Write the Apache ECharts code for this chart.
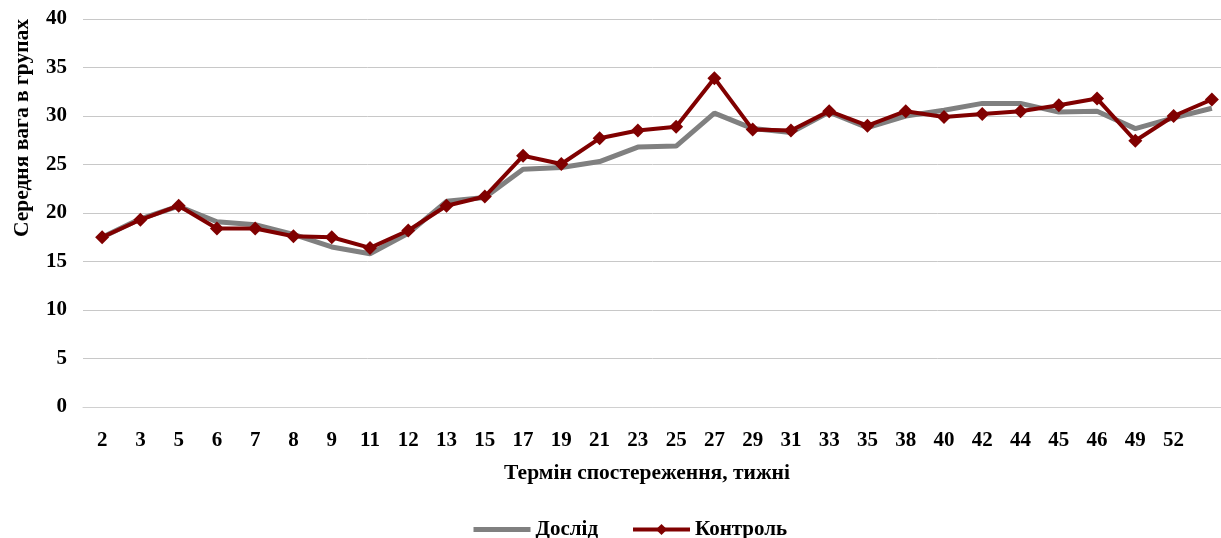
<!DOCTYPE html>
<html>
<head>
<meta charset="utf-8">
<script src="https://cdn.jsdelivr.net/npm/echarts@6/dist/echarts.min.js"></script>
<style>
  html, body { margin: 0; padding: 0; background: #fff; }
  #chart { width: 1221px; height: 538px; }
</style>
</head>
<body>
<div id="chart"></div>
<script>
const weeks = ['2', '3', '5', '6', '7', '8', '9', '11', '12', '13', '15', '17', '19', '21', '23',
  '25', '27', '29', '31', '33', '35', '38', '40', '42', '44', '45', '46', '49', '52', ''];

const doslid = [17.5, 19.4, 20.7, 19.1, 18.8, 17.8, 16.5, 15.8, 17.9, 21.2, 21.6, 24.5, 24.7, 25.3, 26.8,
  26.9, 30.3, 28.7, 28.3, 30.4, 28.8, 30.0, 30.6, 31.3, 31.3, 30.4, 30.5, 28.7, 29.8, 30.8];

const kontrol = [17.5, 19.3, 20.75, 18.4, 18.4, 17.6, 17.5, 16.4, 18.2, 20.75, 21.7, 25.9, 25.05, 27.7, 28.5,
  28.9, 33.9, 28.6, 28.5, 30.5, 29.0, 30.5, 29.9, 30.2, 30.5, 31.1, 31.8, 27.45, 30.0, 31.7];

const yTicks = { min: 0, max: 40, interval: 5 };

const font = 'Liberation Serif, Times New Roman, serif';

const chart = echarts.init(document.getElementById('chart'));

chart.setOption({
  animation: false,
  grid: {
    left: 83,
    top: 19,
    width: 1148,
    height: 388,
    outerBoundsMode: 'none'
  },
  legend: {
    top: 514,
    left: 466,
    itemWidth: 57,
    itemHeight: 14,
    itemGap: 33,
    textStyle: { fontFamily: font, fontWeight: 'bold', fontSize: 21, color: '#000' },
    data: [
      { name: 'Дослід', itemStyle: { opacity: 0 }, lineStyle: { width: 5, color: '#808080' } },
      { name: 'Контроль', lineStyle: { width: 4, color: '#800000' } }
    ]
  },
  xAxis: {
    type: 'category',
    data: weeks,
    boundaryGap: true,
    name: 'Термін спостереження, тижні',
    nameLocation: 'middle',
    nameGap: 55,
    nameTextStyle: {
      fontFamily: font, fontWeight: 'bold', fontSize: 21.5, color: '#000',
      padding: [0, 20, 0, 0]
    },
    axisLine: { lineStyle: { color: '#d0d0d0', width: 1 } },
    axisTick: { show: false },
    axisLabel: {
      interval: 0,
      margin: 23,
      fontFamily: font,
      fontWeight: 'bold',
      fontSize: 21,
      color: '#000'
    }
  },
  yAxis: {
    type: 'value',
    min: yTicks.min,
    max: yTicks.max,
    interval: yTicks.interval,
    name: 'Середня вага в групах',
    nameLocation: 'middle',
    nameRotate: 90,
    nameGap: 50,
    nameTextStyle: {
      fontFamily: font, fontWeight: 'bold', fontSize: 21.5, color: '#000',
      padding: [0, 0, 0, 170]
    },
    axisLine: { show: false },
    axisTick: { show: false },
    axisLabel: {
      margin: 16,
      fontFamily: font,
      fontWeight: 'bold',
      fontSize: 21,
      color: '#000'
    },
    splitLine: { lineStyle: { color: '#c8c8c8', width: 1 } }
  },
  series: [
    {
      name: 'Дослід',
      type: 'line',
      data: doslid,
      symbol: 'none',
      lineStyle: { color: '#808080', width: 5 },
      itemStyle: { color: '#808080' }
    },
    {
      name: 'Контроль',
      type: 'line',
      data: kontrol,
      symbol: 'diamond',
      symbolSize: 14,
      lineStyle: { color: '#800000', width: 4 },
      itemStyle: { color: '#800000' }
    }
  ]
});
</script>
</body>
</html>
